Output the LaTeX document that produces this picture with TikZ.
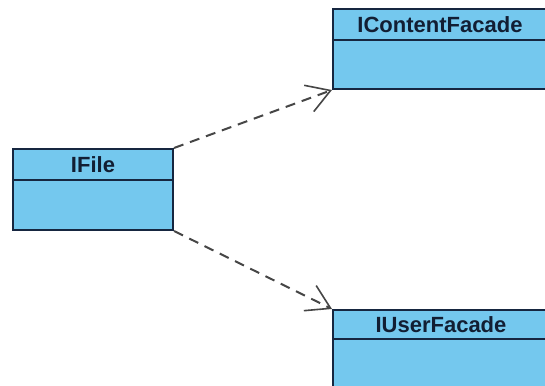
\documentclass[tikz,border=0pt]{standalone}
\usepackage{fontspec}
\setmainfont{Liberation Sans}
\usetikzlibrary{arrows.meta}
\definecolor{boxfill}{RGB}{116,200,238}
\definecolor{boxline}{RGB}{22,38,64}
\definecolor{dep}{RGB}{70,70,70}
\tikzset{
  hdr/.style={draw=boxline, fill=boxfill, line width=2pt, minimum height=31pt, anchor=north west, inner sep=0pt, font=\fontsize{22}{22}\selectfont\bfseries, text=boxline!80!black},
  bdy/.style={draw=boxline, fill=boxfill, line width=2pt, anchor=north west, inner sep=0pt},
  depend/.style={dep, line width=2pt, dash pattern=on 10pt off 7pt, -{Straight Barb[length=23pt, width=28pt, line width=1.6pt]}}
}
\begin{document}
\begin{tikzpicture}[x=1pt,y=-1pt]
\useasboundingbox (0,0) rectangle (545,385);
\clip (0,0) rectangle (545,385);
\fill[white] (0,0) rectangle (545,385);
% IFile
\node[bdy, minimum width=160pt, minimum height=50pt] (fileb) at (12,179) {};
\node[hdr, minimum width=160pt] (file) at (12,148) {IFile};
% IContentFacade
\node[bdy, minimum width=214pt, minimum height=49pt] (cfb) at (332,39) {};
\node[hdr, minimum width=214pt] (cf) at (332,8) {IContentFacade};
% IUserFacade
\node[bdy, minimum width=216pt, minimum height=60pt] (ufb) at (332,338) {};
\node[hdr, minimum width=216pt, minimum height=29pt] (uf) at (332,309) {IUserFacade};
% dependencies
\draw[depend] (file.north east) -- (cfb.south west);
\draw[depend] (fileb.south east) -- (uf.north west);
\end{tikzpicture}
\end{document}
